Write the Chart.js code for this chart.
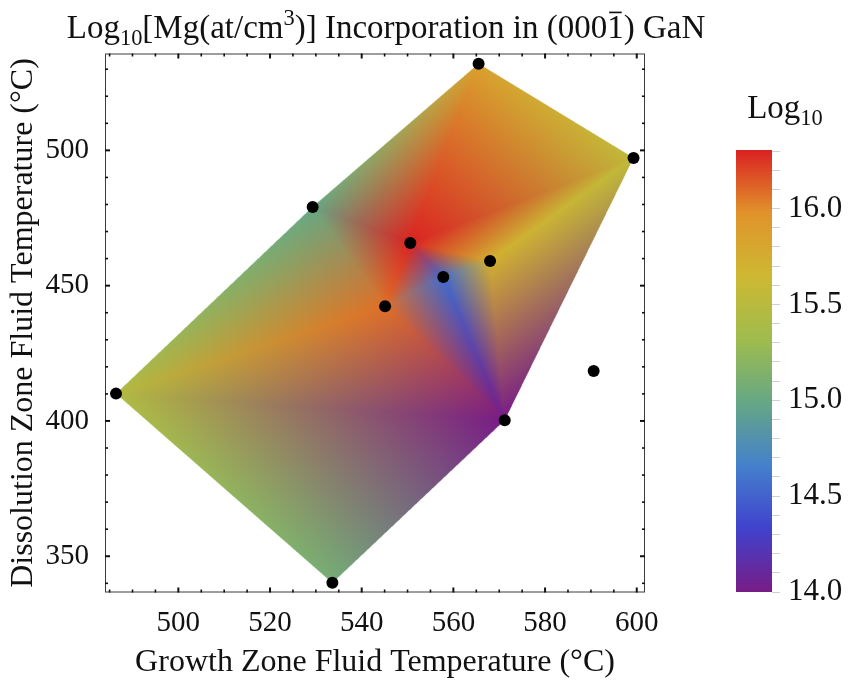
<!DOCTYPE html>
<html>
<head>
<meta charset="utf-8">
<script src="https://cdn.jsdelivr.net/npm/chart.js@4.4.0/dist/chart.umd.min.js"></script>
<style>
  html, body { margin: 0; padding: 0; background: #ffffff; }
  #wrap { position: relative; width: 851px; height: 684px; }
  #wrap canvas { position: absolute; left: 0; top: 0; }
</style>
</head>
<body>
<div id="wrap">
  <canvas id="main" width="851" height="684"></canvas>
  <canvas id="bar" width="851" height="684"></canvas>
</div>
<script>
// Measurement sites: growth-zone and dissolution-zone fluid temperatures (°C)
const growthTemp      = [565.5, 599.3, 529.3, 550.6, 568.0, 557.8, 545.1, 571.2, 486.4, 533.6, 590.6];
const dissolutionTemp = [532.0, 497.2, 479.1, 465.8, 459.1, 453.2, 442.4, 400.3, 410.1, 340.2, 418.5];
// log10 of Mg incorporation (at/cm^3); the last site has no measured value
const logMg           = [15.85, 15.55, 15.00, 16.30, 15.72, 14.55, 16.08, 14.00, 15.45, 15.08, null];

const xTickLabels   = [500, 520, 540, 560, 580, 600];
const yTickLabels   = [350, 400, 450, 500];
const barTickLabels = [14.0, 14.5, 15.0, 15.5, 16.0];

const colorMin = 14.0;
const colorMax = 16.306;

// Rainbow colour scale, evenly spaced stops from low to high
const rainbowStops = [
  [120, 28, 134], [64, 66, 205], [68, 128, 204], [101, 167, 133],
  [159, 188, 77], [206, 184, 50], [224, 147, 43], [219, 33, 34]
];

function rainbow(v) {
  let t = (v - colorMin) / (colorMax - colorMin);
  t = Math.max(0, Math.min(1, t));
  const s = t * (rainbowStops.length - 1);
  const i = Math.min(rainbowStops.length - 2, Math.floor(s));
  const f = s - i;
  const a = rainbowStops[i], b = rainbowStops[i + 1];
  return [a[0] + (b[0] - a[0]) * f, a[1] + (b[1] - a[1]) * f, a[2] + (b[2] - a[2]) * f];
}

// Bowyer–Watson Delaunay triangulation in data units; returns index triples
function delaunay(px, py, ids) {
  const P = ids.map(i => [px[i], py[i]]);
  const n = P.length;
  let x0 = Infinity, y0 = Infinity, x1 = -Infinity, y1 = -Infinity;
  for (const [x, y] of P) { x0 = Math.min(x0, x); y0 = Math.min(y0, y); x1 = Math.max(x1, x); y1 = Math.max(y1, y); }
  const dm = Math.max(x1 - x0, y1 - y0) * 200, mx = (x0 + x1) / 2, my = (y0 + y1) / 2;
  P.push([mx - dm, my - dm], [mx, my + dm], [mx + dm, my - dm]);
  const circ = (a, b, c) => {
    const [ax, ay] = P[a], [bx, by] = P[b], [cx, cy] = P[c];
    const d = 2 * (ax * (by - cy) + bx * (cy - ay) + cx * (ay - by));
    const ux = ((ax * ax + ay * ay) * (by - cy) + (bx * bx + by * by) * (cy - ay) + (cx * cx + cy * cy) * (ay - by)) / d;
    const uy = ((ax * ax + ay * ay) * (cx - bx) + (bx * bx + by * by) * (ax - cx) + (cx * cx + cy * cy) * (bx - ax)) / d;
    return { v: [a, b, c], ux, uy, r2: (ax - ux) ** 2 + (ay - uy) ** 2 };
  };
  let tris = [circ(n, n + 1, n + 2)];
  for (let i = 0; i < n; i++) {
    const [x, y] = P[i];
    const bad = [], keep = [];
    for (const t of tris) ((x - t.ux) ** 2 + (y - t.uy) ** 2 < t.r2 ? bad : keep).push(t);
    const edges = new Map();
    for (const t of bad) {
      for (const [a, b] of [[t.v[0], t.v[1]], [t.v[1], t.v[2]], [t.v[2], t.v[0]]]) {
        const key = a < b ? a + ',' + b : b + ',' + a;
        edges.set(key, edges.has(key) ? null : [a, b]);
      }
    }
    for (const e of edges.values()) if (e) keep.push(circ(e[0], e[1], i));
    tris = keep;
  }
  return tris.filter(t => t.v.every(k => k < n)).map(t => t.v.map(k => ids[k]));
}

const measured = logMg.map((v, i) => (v == null ? -1 : i)).filter(i => i >= 0);
const triangles = delaunay(growthTemp, dissolutionTemp, measured);

const SERIF = "'Liberation Serif', 'Times New Roman', serif";
const INK = '#111111';

// Draws a line of text with subscript / superscript / overbar runs
function drawRich(ctx, parts, cx, baseline, fs) {
  const small = fs * 0.68;
  let total = 0;
  for (const p of parts) {
    ctx.font = (p.k === 'sub' || p.k === 'sup') ? `${small}px ${SERIF}` : `${fs}px ${SERIF}`;
    p.w = ctx.measureText(p.t).width;
    total += p.w;
  }
  let x = cx - total / 2;
  ctx.textAlign = 'left';
  ctx.textBaseline = 'alphabetic';
  ctx.fillStyle = INK;
  for (const p of parts) {
    ctx.font = (p.k === 'sub' || p.k === 'sup') ? `${small}px ${SERIF}` : `${fs}px ${SERIF}`;
    let y = baseline;
    if (p.k === 'sub') y += fs * 0.22;
    if (p.k === 'sup') y -= fs * 0.38;
    ctx.fillText(p.t, x, y);
    if (p.k === 'bar') {
      ctx.fillRect(x + p.w * 0.12, baseline - fs * 0.8, p.w * 0.76, Math.max(1, fs * 0.05));
    }
    x += p.w;
  }
}

// Gouraud-shaded triangles: vertex colours blended across each face
const densityPlugin = {
  id: 'density',
  beforeDatasetsDraw(chart) {
    const { ctx, chartArea: a, scales: { x, y } } = chart;
    const S = 3;
    const w = Math.ceil((a.right - a.left) * S);
    const h = Math.ceil((a.bottom - a.top) * S);
    const off = document.createElement('canvas');
    off.width = w; off.height = h;
    const octx = off.getContext('2d');
    const img = octx.createImageData(w, h);
    const d = img.data;
    const px = growthTemp.map(v => (x.getPixelForValue(v) - a.left) * S);
    const py = dissolutionTemp.map(v => (y.getPixelForValue(v) - a.top) * S);
    const col = logMg.map(v => (v == null ? null : rainbow(v)));
    for (const [i, j, k] of triangles) {
      const x0 = px[i], y0 = py[i], x1 = px[j], y1 = py[j], x2 = px[k], y2 = py[k];
      const c0 = col[i], c1 = col[j], c2 = col[k];
      const det = (y1 - y2) * (x0 - x2) + (x2 - x1) * (y0 - y2);
      const minX = Math.max(0, Math.floor(Math.min(x0, x1, x2)));
      const maxX = Math.min(w - 1, Math.ceil(Math.max(x0, x1, x2)));
      const minY = Math.max(0, Math.floor(Math.min(y0, y1, y2)));
      const maxY = Math.min(h - 1, Math.ceil(Math.max(y0, y1, y2)));
      for (let yy = minY; yy <= maxY; yy++) {
        const cy = yy + 0.5;
        for (let xx = minX; xx <= maxX; xx++) {
          const cx = xx + 0.5;
          const l0 = ((y1 - y2) * (cx - x2) + (x2 - x1) * (cy - y2)) / det;
          const l1 = ((y2 - y0) * (cx - x2) + (x0 - x2) * (cy - y2)) / det;
          const l2 = 1 - l0 - l1;
          if (l0 < -1e-6 || l1 < -1e-6 || l2 < -1e-6) continue;
          const o = (yy * w + xx) * 4;
          d[o]     = l0 * c0[0] + l1 * c1[0] + l2 * c2[0];
          d[o + 1] = l0 * c0[1] + l1 * c1[1] + l2 * c2[1];
          d[o + 2] = l0 * c0[2] + l1 * c1[2] + l2 * c2[2];
          d[o + 3] = 255;
        }
      }
    }
    octx.putImageData(img, 0, 0);
    ctx.save();
    ctx.imageSmoothingEnabled = true;
    ctx.imageSmoothingQuality = 'high';
    ctx.drawImage(off, a.left, a.top, a.right - a.left, a.bottom - a.top);
    ctx.restore();
  }
};

// Frame with inward ticks on all four sides
const framePlugin = {
  id: 'frame',
  afterDraw(chart) {
    const { ctx, chartArea: a, scales: { x, y } } = chart;
    ctx.save();
    ctx.strokeStyle = '#3c3c3c';
    ctx.lineWidth = 1;
    ctx.strokeRect(a.left + 0.5, a.top + 0.5, a.right - a.left - 1, a.bottom - a.top - 1);
    ctx.fillStyle = '#111';
    for (let v = 485; v <= 600; v += 5) {
      const major = xTickLabels.includes(v);
      const len = major ? 5 : 3, wd = major ? 2 : 1.6;
      const p = x.getPixelForValue(v);
      ctx.fillRect(p - wd / 2, a.bottom - len, wd, len);
      ctx.fillRect(p - wd / 2, a.top, wd, len);
    }
    for (let v = 340; v <= 530; v += 10) {
      const major = yTickLabels.includes(v);
      const len = major ? 5 : 3, wd = major ? 2 : 1.6;
      const p = y.getPixelForValue(v);
      ctx.fillRect(a.left, p - wd / 2, len, wd);
      ctx.fillRect(a.right - len, p - wd / 2, len, wd);
    }
    ctx.restore();
  }
};

const titlePlugin = {
  id: 'richTitle',
  afterDraw(chart) {
    const ctx = chart.ctx;
    ctx.save();
    drawRich(ctx, [
      { t: 'Log' }, { t: '10', k: 'sub' }, { t: '[Mg(at/cm' }, { t: '3', k: 'sup' },
      { t: ')] Incorporation in (000' }, { t: '1', k: 'bar' }, { t: ') GaN' }
    ], 386, 38, 33);
    ctx.restore();
  }
};

new Chart(document.getElementById('main'), {
  type: 'scatter',
  data: {
    datasets: [{
      data: growthTemp.map((g, i) => ({ x: g, y: dissolutionTemp[i] })),
      pointRadius: 6,
      pointHoverRadius: 6,
      pointBackgroundColor: '#000',
      pointBorderWidth: 0
    }]
  },
  options: {
    responsive: false,
    animation: false,
    events: [],
    layout: { padding: { left: 0, right: 206, top: 53.5, bottom: 0 } },
    plugins: { legend: { display: false }, tooltip: { enabled: false } },
    scales: {
      x: {
        type: 'linear', min: 484, max: 601.8,
        afterBuildTicks: s => { s.ticks = xTickLabels.map(v => ({ value: v })); },
        afterFit: s => { s.height = 91.5; },
        grid: { display: false }, border: { display: false },
        ticks: { font: { family: SERIF, size: 29 }, color: INK, padding: 5, maxRotation: 0, autoSkip: false },
        title: { display: true, text: 'Growth Zone Fluid Temperature (°C)', font: { family: SERIF, size: 32 }, color: INK, padding: { top: 0, bottom: 2 } }
      },
      y: {
        type: 'linear', min: 336.6, max: 535.8,
        afterBuildTicks: s => { s.ticks = yTickLabels.map(v => ({ value: v })); },
        afterFit: s => { s.width = 105; },
        grid: { display: false }, border: { display: false },
        ticks: { font: { family: SERIF, size: 29 }, color: INK, padding: 8, autoSkip: false },
        title: { display: true, text: 'Dissolution Zone Fluid Temperature (°C)', font: { family: SERIF, size: 32 }, color: INK, padding: { top: 4, bottom: 0 } }
      }
    }
  },
  plugins: [densityPlugin, framePlugin, titlePlugin]
});

// Colour bar
const barFillPlugin = {
  id: 'barFill',
  beforeDraw(chart) {
    const { ctx, chartArea: a, scales: { y } } = chart;
    const g = ctx.createLinearGradient(0, y.getPixelForValue(colorMin), 0, y.getPixelForValue(colorMax));
    rainbowStops.forEach((c, i) => g.addColorStop(i / (rainbowStops.length - 1), `rgb(${c[0]},${c[1]},${c[2]})`));
    ctx.save();
    ctx.fillStyle = g;
    ctx.fillRect(a.left, a.top, a.right - a.left, a.bottom - a.top);
    drawRich(ctx, [{ t: 'Log' }, { t: '10', k: 'sub' }], 785, 118, 33);
    ctx.restore();
  }
};

const barMinorTicks = [];
for (let v = 140; v <= 163; v++) barMinorTicks.push(v / 10);

new Chart(document.getElementById('bar'), {
  type: 'scatter',
  data: { datasets: [] },
  options: {
    responsive: false,
    animation: false,
    events: [],
    layout: { padding: { left: 736, right: 0, top: 150, bottom: 92 } },
    plugins: { legend: { display: false }, tooltip: { enabled: false } },
    scales: {
      x: { display: false, min: 0, max: 1 },
      y: {
        type: 'linear', position: 'right', min: colorMin, max: colorMax,
        afterBuildTicks: s => { s.ticks = barMinorTicks.map(v => ({ value: v })); },
        afterFit: s => { s.width = 79; },
        grid: { drawOnChartArea: false, drawTicks: true, tickLength: 8, color: '#cfcfcf', lineWidth: 1 },
        border: { display: false },
        ticks: {
          autoSkip: false, padding: 8, color: INK, font: { family: SERIF, size: 31 },
          callback: v => (barTickLabels.some(b => Math.abs(b - v) < 1e-6) ? Number(v).toFixed(1) : '')
        }
      }
    }
  },
  plugins: [barFillPlugin]
});
</script>
</body>
</html>
